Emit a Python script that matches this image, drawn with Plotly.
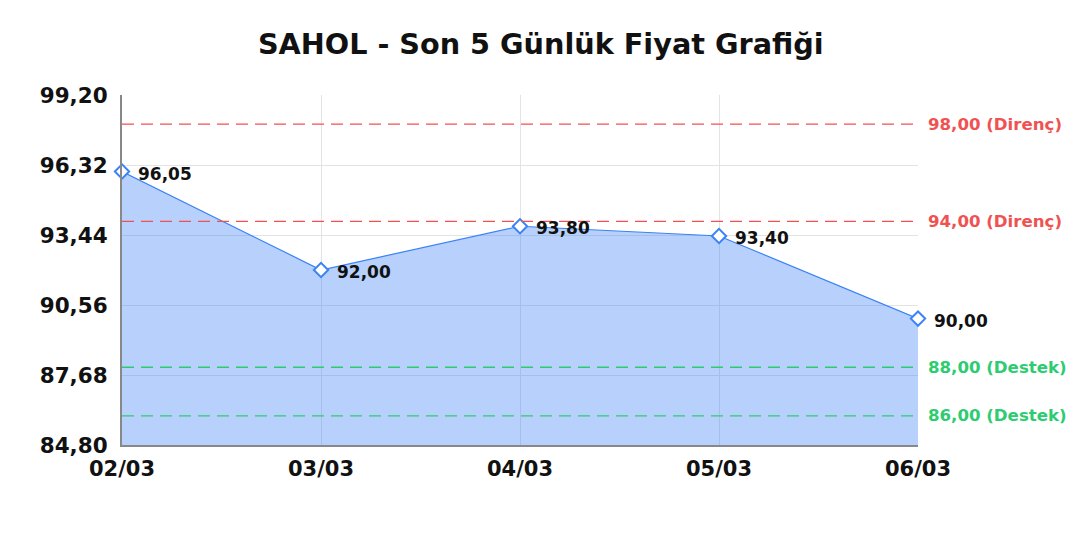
import plotly.graph_objects as go

dates = ["02/03", "03/03", "04/03", "05/03", "06/03"]
prices = [96.05, 92.00, 93.80, 93.40, 90.00]
y_ticks = [84.80, 87.68, 90.56, 93.44, 96.32, 99.20]
resistance = [98.00, 94.00]
support = [88.00, 86.00]

def tr(v):
    return f"{v:.2f}".replace(".", ",")

FONT = "DejaVu Sans"
RED = "#f05252"
GREEN = "#2ecc71"
BLUE = "#3b82f6"

fig = go.Figure()
fig.add_trace(go.Scatter(
    x=dates, y=prices, mode="lines+markers",
    fill="tozeroy", fillcolor="rgba(59,130,246,0.37)",
    line=dict(color=BLUE, width=1.2),
    marker=dict(symbol="diamond", size=11, color="white", line=dict(width=2, color=BLUE)),
    cliponaxis=False, hoverinfo="skip", showlegend=False,
))

for d, p in zip(dates, prices):
    fig.add_annotation(x=d, y=p, text=tr(p), showarrow=False, xanchor="left", yanchor="middle",
                       xshift=14, yshift=-2,
                       font=dict(family=FONT, size=17, color="#111111", weight="bold"))

for lvl in resistance:
    fig.add_shape(type="line", xref="paper", x0=0, x1=1, yref="y", y0=lvl, y1=lvl,
                  line=dict(color=RED, width=1.4, dash="12px,7px"), layer="above")
    fig.add_annotation(xref="paper", x=1, y=lvl, text=f"{tr(lvl)} (Direnç)", showarrow=False,
                       xanchor="left", xshift=8, font=dict(family=FONT, size=16.6, color=RED, weight="bold"))
for lvl in support:
    fig.add_shape(type="line", xref="paper", x0=0, x1=1, yref="y", y0=lvl, y1=lvl,
                  line=dict(color=GREEN, width=1.4, dash="12px,7px"), layer="above")
    fig.add_annotation(xref="paper", x=1, y=lvl, text=f"{tr(lvl)} (Destek)", showarrow=False,
                       xanchor="left", xshift=8, font=dict(family=FONT, size=16.6, color=GREEN, weight="bold"))

fig.update_layout(
    width=1072, height=524,
    margin=dict(l=114, r=162, t=87, b=87),
    paper_bgcolor="white", plot_bgcolor="white",
    title=dict(text="SAHOL - Son 5 Günlük Fiyat Grafiği", x=0.497, xanchor="center", y=0.931, yanchor="middle",
               font=dict(family=FONT, size=28.7, color="#111111", weight="bold")),
    font=dict(family=FONT),
    xaxis=dict(type="category", range=[0, 4], showgrid=True, gridcolor="#e3e3e3",
               showline=True, linecolor="#888888", linewidth=2, ticks="", mirror=False,
               ticklabelstandoff=4,
               tickfont=dict(family=FONT, size=21, color="#111111", weight="bold"), zeroline=False),
    yaxis=dict(range=[84.80, 99.20], tickvals=y_ticks, ticktext=[tr(v) for v in y_ticks],
               showgrid=True, gridcolor="#e3e3e3", showline=True, linecolor="#888888", linewidth=2,
               ticks="", ticklabelstandoff=8, zeroline=False,
               tickfont=dict(family=FONT, size=21.5, color="#111111", weight="bold")),
)

fig.write_html("out.html")
